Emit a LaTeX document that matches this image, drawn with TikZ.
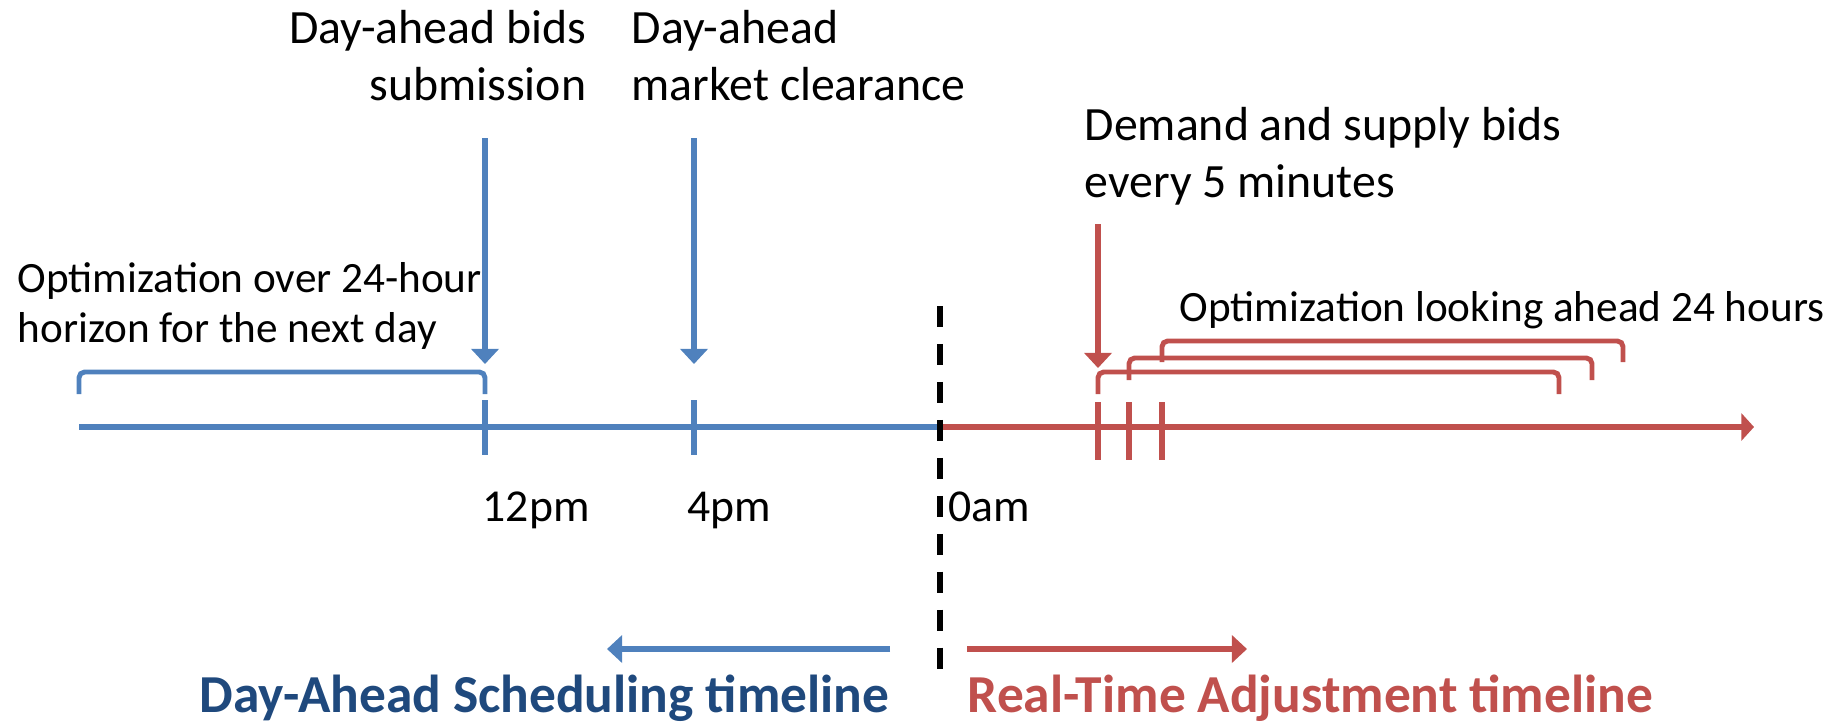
\documentclass[tikz,border=0pt]{standalone}
\usepackage{fontspec}
\setmainfont{Carlito}
\usetikzlibrary{arrows.meta,positioning}

\definecolor{dablue}{RGB}{79,129,189}
\definecolor{rtred}{RGB}{192,80,77}
\definecolor{titleblue}{RGB}{31,73,125}

\tikzset{
    axisline/.style={line width=1.9pt},
    tickmark/.style={line width=1.7pt},
    bracket/.style={line width=1.4pt, rounded corners=1.6pt},
    lbl/.style={font=\fontsize{13.6}{16}\selectfont, inner sep=0pt},
    timelbl/.style={font=\fontsize{13}{16}\selectfont, inner sep=0pt},
    smalllbl/.style={font=\fontsize{12.3}{14}\selectfont, inner sep=0pt},
    titlelbl/.style={font=\fontsize{15.2}{18}\selectfont\bfseries, inner sep=0pt},
}

\begin{document}
\begin{tikzpicture}[x=0.1mm,y=-0.1mm,>={Triangle[length=4.3pt,width=7.7pt]}]
            \useasboundingbox (0,0) rectangle (1831,723);

            % the time axis
            \coordinate (start) at (79,427);
            \coordinate (midnight) at (940,427);
            \coordinate (end) at (1754,427);
            \draw[axisline,dablue] (start) -- (midnight);
            \draw[axisline,rtred,-{Triangle[length=3.6pt,width=7.7pt]}] (midnight) -- (end);

            \coordinate (t12) at (485,427);
            \coordinate (t4) at (694,427);
            \draw[tickmark,dablue] (t12) ++(0,-27) -- ++(0,55);
            \draw[tickmark,dablue] (t4) ++(0,-27) -- ++(0,55);
            \foreach \x in {1098,1129,1162}
                \draw[tickmark,rtred] (\x,402) -- (\x,460);

            \draw[line width=1.5pt,dash pattern=on 6pt off 4.8pt] (940,306) -- (940,671);

            % events
            \coordinate (A) at (485,138);
            \coordinate (A') at (485,364);
            \coordinate (B) at (694,138);
            \coordinate (B') at (694,364);
            \coordinate (C) at (1098,224);
            \coordinate (C') at (1098,368);
            \draw[->,axisline,dablue] (A) -- (A');
            \draw[->,axisline,dablue] (B) -- (B');
            \draw[->,axisline,rtred] (C) -- (C');

            % optimization windows
            \draw[bracket,dablue] (79,394) -- (79,372) -- (485,372) -- (485,394);
            \draw[bracket,rtred] (1098,394) -- (1098,372) -- (1559,372) -- (1559,394);
            \draw[bracket,rtred] (1129,380) -- (1129,358) -- (1592,358) -- (1592,380);
            \draw[bracket,rtred] (1162,362) -- (1162,341) -- (1623,341) -- (1623,362);

            \node[lbl,anchor=base east,align=right] (bidsub) at (587,100) {Day-ahead bids\\submission};
            \node[lbl,anchor=base west,align=left] (clear) at (631,100) {Day-ahead\\market clearance};
            \node[lbl,anchor=base west,align=left] (rtbids) at (1084,197) {Demand and supply bids\\every 5 minutes};
            \node[smalllbl,anchor=base west,align=left] (daopt) at (17,342) {Optimization over 24-hour\\horizon for the next day};
            \node[smalllbl,anchor=base west] (rtopt) at (1179,321) {Optimization looking ahead 24 hours};

            \node[timelbl,anchor=base west] (l12) at (482,521) {12pm};
            \node[timelbl,anchor=base west] (l4) at (687,521) {4pm};
            \node[timelbl,anchor=base west] (l0) at (948,521) {0am};

            % direction of the two timelines
            \coordinate (E) at (890,649);
            \coordinate (F) at (607,649);
            \coordinate (G) at (967,649);
            \coordinate (H) at (1247,649);
            \draw[->,axisline,dablue] (E) -- (F);
            \draw[->,axisline,rtred] (G) -- (H);
            \node[titlelbl,text=titleblue,anchor=base east] (datitle) at (890,712) {Day-Ahead Scheduling timeline};
            \node[titlelbl,text=rtred,anchor=base west] (rttitle) at (967,712) {Real-Time Adjustment timeline};
        \end{tikzpicture}
\end{document}
